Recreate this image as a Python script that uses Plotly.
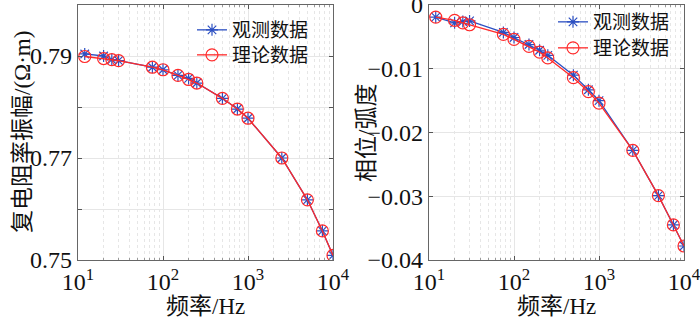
import plotly.graph_objects as go

freq = [12, 20, 25, 30, 75, 100, 150, 200, 250, 500, 750, 1000, 2500, 5000, 7500, 10000]
amp_obs = [0.7904, 0.7900, 0.7893, 0.7891, 0.7878, 0.7873, 0.7862, 0.7856, 0.7847,
           0.7817, 0.7796, 0.7778, 0.7700, 0.7618, 0.7557, 0.7509]
amp_theo = [0.7899, 0.7895, 0.7893, 0.7891, 0.7878, 0.7873, 0.7862, 0.7854, 0.7847,
            0.7817, 0.7796, 0.7778, 0.7700, 0.7618, 0.7557, 0.7509]
phase_obs = [-0.0019, -0.0028, -0.0026, -0.0025, -0.0043, -0.0051, -0.0062, -0.0071, -0.0079,
             -0.0110, -0.0133, -0.0150, -0.0228, -0.0299, -0.0345, -0.0378]
phase_theo = [-0.0019, -0.0024, -0.0028, -0.0031, -0.0046, -0.0054, -0.0065, -0.0074, -0.0083,
              -0.0114, -0.0136, -0.0154, -0.0228, -0.0299, -0.0345, -0.0378]

x_tickvals = [10, 100, 1000, 10000]
x_ticktext = ["10<sup>1</sup>", "10<sup>2</sup>", "10<sup>3</sup>", "10<sup>4</sup>"]
amp_tickvals = [0.75, 0.76, 0.77, 0.78, 0.79, 0.80]
amp_ticktext = ["0.75", "", "0.77", "", "0.79", ""]
phase_tickvals = [-0.04, -0.03, -0.02, -0.01, 0]
phase_ticktext = ["\u22120.04", "\u22120.03", "\u22120.02", "\u22120.01", "0"]

name_obs = "观测数据"
name_theo = "理论数据"

FONT = "'Liberation Serif', 'Times New Roman', 'Noto Sans CJK SC', serif"
BLUE = "#2B4FC2"
RED = "#FF2A2A"

minor_vals = [m * 10 ** k for k in range(1, 4) for m in range(2, 10)]

fig = go.Figure()

def add_pair(xa, ya, yo, yt, leg_obs, leg_theo):
    fig.add_trace(go.Scatter(
        x=freq, y=yo, mode="lines+markers", name=name_obs,
        line=dict(color=BLUE, width=1.3),
        marker=dict(symbol="asterisk-open", size=10, color=BLUE, line=dict(color=BLUE, width=1.2)),
        xaxis=xa, yaxis=ya, legend=leg_obs))
    fig.add_trace(go.Scatter(
        x=freq, y=yt, mode="lines+markers", name=name_theo,
        line=dict(color=RED, width=1.3),
        marker=dict(symbol="circle-open", size=12, color=RED, line=dict(color=RED, width=1.2)),
        xaxis=xa, yaxis=ya, legend=leg_theo))

add_pair("x", "y", amp_obs, amp_theo, "legend", "legend2")
add_pair("x2", "y2", phase_obs, phase_theo, "legend3", "legend4")

xaxis_common = dict(
    type="log", range=[1, 4], tickmode="array", tickvals=x_tickvals, ticktext=x_ticktext,
    showgrid=True, gridcolor="#E6E6E6", gridwidth=1,
    ticks="inside", ticklen=4, tickcolor="#555", mirror="ticks",
    showline=True, linecolor="#666", linewidth=1.2,
    tickfont=dict(family=FONT, size=24, color="#111"),
    ticklabeloverflow="allow",
    minor=dict(tickmode="array", tickvals=minor_vals, ticks="inside", ticklen=2,
               tickcolor="#999", showgrid=True, gridcolor="#E6E6E6", griddash="dot", gridwidth=1),
    zeroline=False, fixedrange=True, automargin=False,
)
yaxis_common = dict(
    showgrid=True, gridcolor="#E6E6E6", gridwidth=1,
    ticks="inside", ticklen=4, tickcolor="#555", mirror="ticks",
    showline=True, linecolor="#666", linewidth=1.2,
    tickfont=dict(family=FONT, size=24, color="#111"),
    ticklabeloverflow="allow",
    zeroline=False, fixedrange=True, automargin=False,
)

def leg(xpx, ypx):
    return dict(x=xpx / 700, y=1 - ypx / 318, xanchor="left", yanchor="middle",
                bgcolor="rgba(255,255,255,0)", font=dict(family=FONT, size=19, color="#111"),
                tracegroupgap=0)

fig.update_layout(
    template="none",
    width=700, height=318,
    margin=dict(l=0, r=0, t=0, b=0, pad=0),
    paper_bgcolor="white", plot_bgcolor="white",
    font=dict(family=FONT, color="#111"),
    xaxis=dict(domain=[78 / 700, 333 / 700], anchor="y", **xaxis_common),
    yaxis=dict(domain=[(318 - 260) / 318, (318 - 5) / 318], anchor="x", range=[0.75, 0.80],
               tickmode="array", tickvals=amp_tickvals, ticktext=amp_ticktext, **yaxis_common),
    xaxis2=dict(domain=[429 / 700, 684 / 700], anchor="y2", **xaxis_common),
    yaxis2=dict(domain=[(318 - 260) / 318, (318 - 5) / 318], anchor="x2", range=[-0.04, 0],
                tickmode="array", tickvals=phase_tickvals, ticktext=phase_ticktext, **yaxis_common),
    legend=leg(192, 30),
    legend2=leg(192, 55),
    legend3=leg(553, 22),
    legend4=leg(553, 48),
    showlegend=True,
)

ann_font = dict(family=FONT, size=23, color="#111")
fig.add_annotation(text="频率/Hz", x=205 / 700, y=1 - 306 / 318, xref="paper", yref="paper",
                   showarrow=False, font=ann_font, xanchor="center", yanchor="middle")
fig.add_annotation(text="频率/Hz", x=556 / 700, y=1 - 306 / 318, xref="paper", yref="paper",
                   showarrow=False, font=ann_font, xanchor="center", yanchor="middle")
fig.add_annotation(text="复电阻率振幅/(Ω·m)", x=22 / 700, y=1 - 132 / 318, xref="paper", yref="paper",
                   showarrow=False, font=ann_font, textangle=-90, xanchor="center", yanchor="middle")
fig.add_annotation(text="相位/弧度", x=366 / 700, y=1 - 133 / 318, xref="paper", yref="paper",
                   showarrow=False, font=ann_font, textangle=-90, xanchor="center", yanchor="middle")

fig.write_html("out.html", config={"displayModeBar": False},
               post_script="document.body.style.margin='0px';")
